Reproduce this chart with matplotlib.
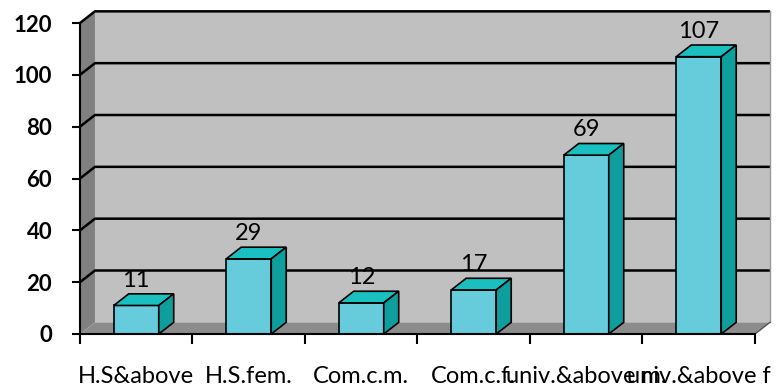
import numpy as np
import matplotlib.pyplot as plt
from matplotlib.patches import Polygon

# Data
categories = ["H.S&above", "H.S.fem.", "Com.c.m.", "Com.c.f.", "univ.&above m.", "univ.&above f"]
values = [11, 29, 12, 17, 69, 107]
y_ticks = [0, 20, 40, 60, 80, 100, 120]

# 3D look: depth offset of the walls and bars (data units)
depth_x = 0.133
depth_y = 4.5
bar_width = 0.4

front_col = "#66CCDC"
top_col = "#1ABFBF"
side_col = "#0F9E9E"

plt.rcParams['font.family'] = ['Lato', 'DejaVu Sans']

fig = plt.figure(figsize=(7.79, 3.89), dpi=100)
ax = fig.add_axes([80 / 779, 55 / 389, 675 / 779, 311 / 389])
ax.set_xlim(0, len(categories))
ax.set_ylim(0, 120)
ax.patch.set_visible(False)

n = len(categories)
ytop = y_ticks[-1]

# back wall, side wall, floor
back = Polygon([(depth_x, depth_y), (n + depth_x, depth_y), (n + depth_x, ytop + depth_y), (depth_x, ytop + depth_y)],
               closed=True, facecolor="#C0C0C0", edgecolor="none", clip_on=False, zorder=0)
side = Polygon([(0, 0), (depth_x, depth_y), (depth_x, ytop + depth_y), (0, ytop)],
               closed=True, facecolor="#808080", edgecolor="none", clip_on=False, zorder=0)
floor = Polygon([(0, 0), (n, 0), (n + depth_x, depth_y), (depth_x, depth_y)],
                closed=True, facecolor="#8C8C8C", edgecolor="none", clip_on=False, zorder=0)
for p in (back, side, floor):
    ax.add_patch(p)

# gridlines on the back wall and the side wall
for t in y_ticks[1:]:
    ax.plot([0, depth_x, n + depth_x], [t, t + depth_y, t + depth_y], color="black", lw=1.8,
            clip_on=False, zorder=1, solid_capstyle="butt")
ax.plot([n + depth_x, n + depth_x], [depth_y, ytop + depth_y], color="#999999", lw=1, clip_on=False, zorder=1)
ax.plot([n, n + depth_x], [0, depth_y], color="#555555", lw=1, clip_on=False, zorder=1)

# bars: front face, top and right side
for i, v in enumerate(values):
    x0 = i + 0.5 - bar_width / 2
    x1 = x0 + bar_width
    ax.bar(i + 0.5, v, width=bar_width, color=front_col, edgecolor="black", linewidth=1.2, zorder=3)
    ax.add_patch(Polygon([(x0, v), (x1, v), (x1 + depth_x, v + depth_y), (x0 + depth_x, v + depth_y)],
                         closed=True, facecolor=top_col, edgecolor="black", lw=1.2, zorder=3, clip_on=False))
    ax.add_patch(Polygon([(x1, 0), (x1 + depth_x, depth_y), (x1 + depth_x, v + depth_y), (x1, v)],
                         closed=True, facecolor=side_col, edgecolor="black", lw=1.2, zorder=3, clip_on=False))
    ax.annotate(str(v), (i + 0.5, v), xytext=(0, 13.5), textcoords="offset points",
                ha="center", va="baseline", fontsize=17, zorder=4)

# axes
for s in ("top", "right"):
    ax.spines[s].set_visible(False)
ax.spines["left"].set_linewidth(1.5)
ax.spines["bottom"].set_linewidth(1.5)
ax.spines["left"].set_zorder(2)
ax.spines["bottom"].set_zorder(5)

ax.set_yticks(y_ticks)
ax.tick_params(axis="y", length=6, width=1.5, pad=14, labelsize=16)
for lab in ax.get_yticklabels():
    lab.set_fontweight("bold")

ax.set_xticks(np.arange(n + 1))
ax.set_xticklabels([])
ax.set_xticks(np.arange(n) + 0.5, minor=True)
ax.set_xticklabels(categories, minor=True, fontsize=17)
ax.tick_params(axis="x", which="major", length=7, width=1.5)
ax.tick_params(axis="x", which="minor", length=0, pad=23)

fig.savefig("out.png", dpi=100)
